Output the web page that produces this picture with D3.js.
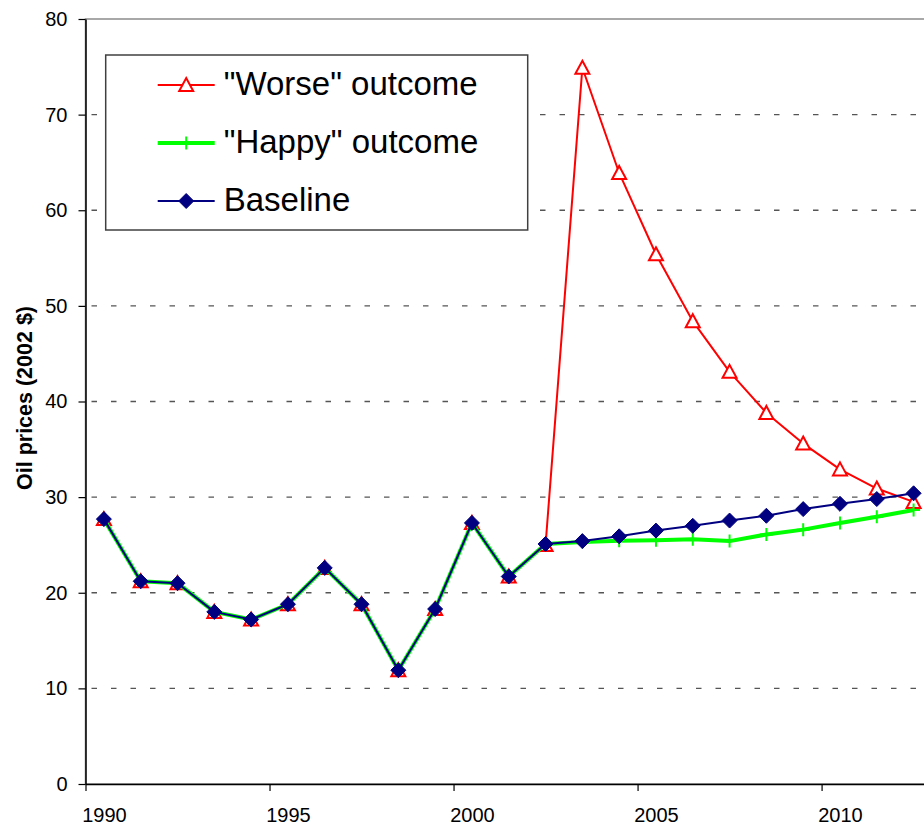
<!DOCTYPE html>
<html>
<head>
<meta charset="utf-8">
<script src="https://cdn.jsdelivr.net/npm/d3@7"></script>
<style>
    html, body { margin: 0; padding: 0; background: #fff; }
    svg { display: block; font-family: "Liberation Sans", Arial, sans-serif; }
</style>
</head>
<body>
<div id="chart"></div>
<script>
// Data
var years = [1990, 1991, 1992, 1993, 1994, 1995, 1996, 1997, 1998, 1999, 2000, 2001,
             2002, 2003, 2004, 2005, 2006, 2007, 2008, 2009, 2010, 2011, 2012];

var worse = [27.7, 21.2, 21.0, 18.0, 17.2, 18.8, 22.6, 18.8, 11.9, 18.3, 27.3, 21.7,
             25.0, 74.9, 63.9, 55.4, 48.4, 43.1, 38.8, 35.6, 32.9, 30.9, 29.5];

var happy = [27.7, 21.2, 21.0, 18.0, 17.2, 18.8, 22.6, 18.8, 11.9, 18.3, 27.3, 21.7,
             25.1, 25.3, 25.45, 25.5, 25.6, 25.4, 26.1, 26.6, 27.3, 27.95, 28.65];

var baseline = [27.7, 21.2, 21.0, 18.0, 17.2, 18.8, 22.6, 18.8, 11.9, 18.3, 27.3, 21.7,
                25.1, 25.4, 25.9, 26.5, 27.0, 27.55, 28.05, 28.75, 29.3, 29.8, 30.4];

var yTicks = [0, 10, 20, 30, 40, 50, 60, 70, 80];
var xLabelYears = [1990, 1995, 2000, 2005, 2010];

var seriesNames = ['"Worse" outcome', '"Happy" outcome', 'Baseline'];

(function() {
    'use strict';

    var width = 924, height = 827;
    var left = 85.5, right = 932, top = 19, bottom = 784;

    var svg = d3.select("#chart").append("svg")
        .attr("width", width)
        .attr("height", height);

    var x = d3.scaleBand().domain(years).range([left, right]).padding(0);
    var y = d3.scaleLinear().domain([0, 80]).range([bottom, top]);
    var cx = function(d) { return x(d) + x.bandwidth() / 2; };

    // plot area border (right edge is off screen)
    svg.append("rect")
        .attr("x", left)
        .attr("y", top)
        .attr("width", right - left)
        .attr("height", bottom - top)
        .style("fill", "none")
        .style("stroke", "#8c8c8c")
        .style("stroke-width", 1.5);

    // dashed gridlines
    svg.append("g")
        .selectAll("line")
        .data(yTicks.filter(function(t) { return t > 0 && t < 80; }))
        .enter().append("line")
        .attr("x1", left + 6)
        .attr("x2", right)
        .attr("y1", function(d) { return y(d); })
        .attr("y2", function(d) { return y(d); })
        .style("stroke", "#555")
        .style("stroke-width", 1.3)
        .style("stroke-dasharray", "5.5,14");

    // y axis
    var yAxis = svg.append("g")
        .attr("transform", "translate(" + left + ",0)")
        .call(d3.axisLeft(y).tickValues(yTicks).tickSize(7).tickPadding(11).tickSizeOuter(0));
    yAxis.select(".domain").style("stroke", "#000").style("stroke-width", 1.5);
    yAxis.selectAll(".tick line").style("stroke", "#000").style("stroke-width", 1.2);
    yAxis.selectAll("text")
        .style("font-size", "20px")
        .style("font-family", "Liberation Sans, Arial, sans-serif")
        .style("fill", "#000");

    // x axis: tick marks on category boundaries
    var xEdge = d3.scaleLinear().domain([years[0], years[years.length - 1] + 1]).range([left, right]);
    var xAxis = svg.append("g")
        .attr("transform", "translate(0," + bottom + ")")
        .call(d3.axisBottom(xEdge).tickValues(xLabelYears).tickFormat("").tickSize(7).tickSizeOuter(0));
    xAxis.select(".domain").style("stroke", "#000").style("stroke-width", 1.5);
    xAxis.selectAll(".tick line").style("stroke", "#000").style("stroke-width", 1.2);

    // x labels centred on categories
    var xLabels = svg.append("g")
        .attr("transform", "translate(0," + bottom + ")")
        .call(d3.axisBottom(d3.scalePoint().domain(years).range([cx(years[0]), cx(years[years.length - 1])]))
            .tickValues(xLabelYears).tickSize(0).tickPadding(24));
    xLabels.select(".domain").remove();
    xLabels.selectAll("text")
        .style("font-size", "20px")
        .style("font-family", "Liberation Sans, Arial, sans-serif")
        .style("fill", "#000");

    // y axis title
    svg.append("text")
        .attr("transform", "translate(31.5," + 398 + ") rotate(-90)")
        .attr("text-anchor", "middle")
        .style("font-size", "21.5px")
        .style("font-weight", "bold")
        .text("Oil prices (2002 $)");

    var line = d3.line()
        .x(function(d, i) { return cx(years[i]); })
        .y(function(d) { return y(d); });

    var triangle = "M0,-7L7,6L-7,6Z";
    var plus = "M-6.5,0H6.5M0,-6.5V6.5";
    var diamond = "M0,-7.5L7.5,0L0,7.5L-7.5,0Z";

    var series = [
        { name: seriesNames[0], values: worse, color: "#ff0000", width: 2, marker: triangle, fill: "#fff", mw: 2 },
        { name: seriesNames[1], values: happy, color: "#00ff00", width: 4, marker: plus, fill: "none", mw: 2 },
        { name: seriesNames[2], values: baseline, color: "#000080", width: 2, marker: diamond, fill: "#000080", mw: 1 }
    ];

    series.forEach(function(s) {
        var g = svg.append("g");
        g.append("path")
            .datum(s.values)
            .attr("d", line)
            .style("fill", "none")
            .style("stroke", s.color)
            .style("stroke-width", s.width)
            .style("stroke-linejoin", "round");
        g.selectAll(".marker")
            .data(s.values)
            .enter().append("path")
            .attr("class", "marker")
            .attr("transform", function(d, i) { return "translate(" + cx(years[i]) + "," + y(d) + ")"; })
            .attr("d", s.marker)
            .style("fill", s.fill)
            .style("stroke", s.color)
            .style("stroke-width", s.mw);
    });

    // legend
    var legend = svg.append("g").attr("transform", "translate(105.7,55)");
    legend.append("rect")
        .attr("width", 422)
        .attr("height", 175)
        .style("fill", "#fff")
        .style("stroke", "#404040")
        .style("stroke-width", 1.5);

    series.forEach(function(s, i) {
        var ry = 30 + i * 58;
        var item = legend.append("g").attr("transform", "translate(0," + ry + ")");
        item.append("line")
            .attr("x1", 52).attr("x2", 109)
            .attr("y1", 0).attr("y2", 0)
            .style("stroke", s.color)
            .style("stroke-width", s.width);
        item.append("path")
            .attr("transform", "translate(80.5,0)")
            .attr("d", s.marker)
            .style("fill", s.fill)
            .style("stroke", s.color)
            .style("stroke-width", s.mw);
        item.append("text")
            .attr("x", 118)
            .attr("y", 0)
            .attr("dy", "0.3em")
            .style("font-size", "33px")
            .text(s.name);
    });
})();
</script>
</body>
</html>
